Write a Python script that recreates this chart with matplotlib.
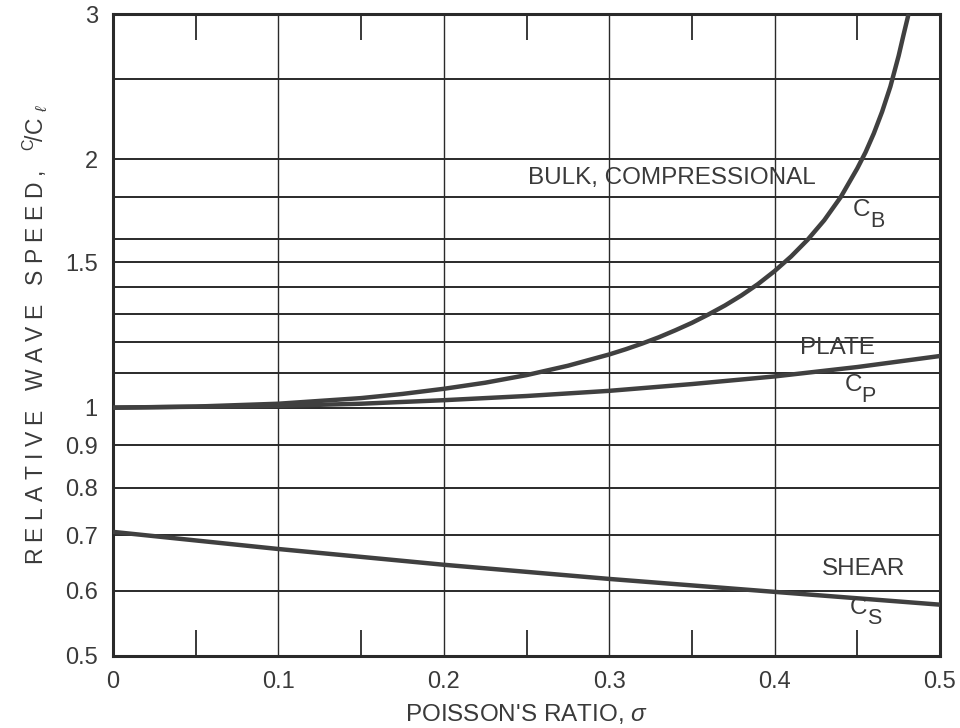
import matplotlib as mpl
import matplotlib.pyplot as plt
import numpy as np
from matplotlib.ticker import FixedLocator, NullFormatter, NullLocator

# Poisson's ratio read along the x axis
sigma_bulk = [0.0, 0.05, 0.1, 0.15, 0.175, 0.2, 0.225, 0.25, 0.275, 0.3, 0.31, 0.32, 0.33,
              0.34, 0.35, 0.36, 0.37, 0.38, 0.39, 0.4, 0.41, 0.42, 0.43, 0.44, 0.45,
              0.455, 0.46, 0.465, 0.47, 0.475, 0.478, 0.481]
bulk = [1.0, 1.003, 1.011, 1.027, 1.039, 1.054, 1.072, 1.095, 1.124, 1.16, 1.177, 1.196, 1.217,
        1.241, 1.267, 1.297, 1.330, 1.368, 1.412, 1.464, 1.525, 1.598, 1.687, 1.80, 1.95,
        2.04, 2.15, 2.284, 2.45, 2.67, 2.833, 3.0]

sigma_plate = [0.0, 0.1, 0.15, 0.2, 0.25, 0.3, 0.35, 0.4, 0.45, 0.5]
plate = [1.0, 1.005, 1.011, 1.021, 1.033, 1.048, 1.068, 1.091, 1.120, 1.155]

sigma_shear = [0.0, 0.1, 0.2, 0.3, 0.4, 0.5]
shear = [0.707, 0.674, 0.645, 0.620, 0.598, 0.577]

hlines = [0.6, 0.7, 0.8, 0.9, 1.0, 1.1, 1.2, 1.3, 1.4, 1.5, 1.6, 1.8, 2.0, 2.5]
vlines = [0.1, 0.2, 0.3, 0.4]
yticks = [0.5, 0.6, 0.7, 0.8, 0.9, 1, 1.5, 2, 3]
ytick_labels = ["0.5", "0.6", "0.7", "0.8", "0.9", "1", "1.5", "2", "3"]
xticks = [0, 0.1, 0.2, 0.3, 0.4, 0.5]
xtick_labels = ["0", "0.1", "0.2", "0.3", "0.4", "0.5"]
minor_x = [0.05, 0.15, 0.25, 0.35, 0.45]

plt.rcParams['font.family'] = ['Liberation Sans', 'DejaVu Sans']
plt.rcParams['mathtext.fontset'] = 'custom'
plt.rcParams['mathtext.rm'] = 'Liberation Sans'
plt.rcParams['mathtext.it'] = 'Liberation Sans:italic'

ink = "#2a2a2a"
txt = "#3a3a3a"

fig = plt.figure(figsize=(9.6, 7.28), dpi=100)
ax = fig.add_axes([113 / 960, 1 - 656 / 728, 827 / 960, 642 / 728])
ax.set_yscale("log")
ax.set_xlim(0, 0.5)
ax.set_ylim(0.5, 3)

for v in hlines:
    ax.axhline(v, color=ink, lw=1.4, zorder=1)
for v in vlines:
    ax.axvline(v, color=ink, lw=1.0, zorder=1)

ax.plot(sigma_bulk, bulk, color="#404040", lw=3.2, solid_capstyle="butt", zorder=3)
ax.plot(sigma_plate, plate, color="#404040", lw=3.2, zorder=3)
ax.plot(sigma_shear, shear, color="#404040", lw=3.2, zorder=3)

for s in ax.spines.values():
    s.set_linewidth(2.2)
    s.set_color(ink)

ax.yaxis.set_major_locator(FixedLocator(yticks))
ax.yaxis.set_minor_locator(NullLocator())
ax.yaxis.set_minor_formatter(NullFormatter())
ax.set_yticklabels(ytick_labels)
ax.set_xticks(xticks)
ax.set_xticklabels(xtick_labels)
ax.xaxis.set_minor_locator(FixedLocator(minor_x))
ax.tick_params(axis="both", which="major", length=0, labelsize=17, labelcolor=txt)
ax.tick_params(axis="y", which="major", pad=11)
ax.tick_params(axis="x", which="major", pad=11)
ax.tick_params(axis="x", which="minor", direction="in", length=19, width=1.3,
               color=ink, top=True, bottom=True)

fs = 17.5
ax.text(0.251, 1.898, "BULK, COMPRESSIONAL", fontsize=fs, color=txt, va="center", ha="left")
ax.text(0.4154, 1.18, "PLATE", fontsize=fs, color=txt, va="center", ha="left")
ax.text(0.4287, 0.638, "SHEAR", fontsize=fs, color=txt, va="center", ha="left")

# C with a lowered subscript letter, as in the drawing
for x, y, sub in [(0.4475, 1.735, "B"), (0.4426, 1.065, "P"), (0.4456, 0.572, "S")]:
    ax.text(x, y, "C", fontsize=fs, color=txt, va="center", ha="left")
    ax.annotate(sub, xy=(x, y), xytext=(12, -8), textcoords="offset points",
                fontsize=15.5, color=txt, va="center", ha="left")

ax.set_xlabel(r"POISSON'S RATIO, $\mathit{\sigma}$", fontsize=17.5, color=txt, labelpad=6)
fig.text(35 / 960, 1 - 335 / 728,
         r"R E L A T I V E   W A V E   S P E E D ,   $^{\mathrm{C}}\!/\mathrm{C}\ _{\ell}$",
         rotation=90, fontsize=16.5, color=txt, ha="center", va="center")

fig.savefig("out.png", dpi=100)
